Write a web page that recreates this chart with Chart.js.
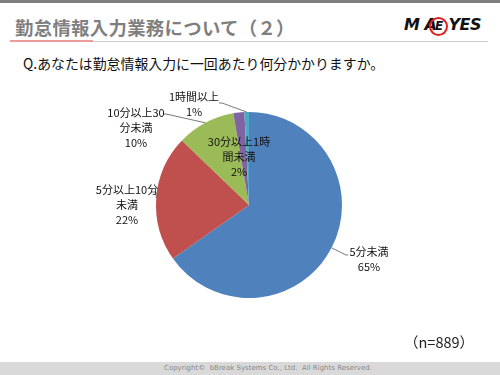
<!DOCTYPE html>
<html lang="ja">
<head>
<meta charset="utf-8">
<script src="https://cdn.jsdelivr.net/npm/chart.js@4/dist/chart.umd.min.js"></script>
<style>
  html, body { margin: 0; padding: 0; background: #fff; }
  body { width: 500px; height: 375px; position: relative; overflow: hidden;
         font-family: "Noto Sans CJK JP", "Noto Sans", sans-serif; }
  #topbar { position: absolute; left: 0; top: 0; width: 500px; height: 3px; background: #7f7f7f; }
  #title { position: absolute; left: 15px; top: 13px; font-size: 18.4px; font-weight: bold;
           color: #7f7f7f; line-height: 28px; white-space: nowrap; letter-spacing: 0.3px; }
  #rule-red { position: absolute; left: 10px; top: 40px; width: 83px; height: 2px; background: #ec9a9a; }
  #rule-gray { position: absolute; left: 93px; top: 41px; width: 395px; height: 1px; background: #cfcfcf; }
  #logo { position: absolute; left: 404px; top: 14px; font-family: "DejaVu Sans", sans-serif;
          font-weight: bold; font-style: italic; font-size: 16px; color: #111; white-space: nowrap;
          letter-spacing: -0.5px; line-height: 22px; }
  #logo .ring { display: inline-block; width: 15px; height: 15px; border: 2.5px solid #e02020;
                border-radius: 50%; text-align: center; line-height: 15px; font-size: 12px;
                margin: 0 0 0 -7px; vertical-align: 0px; box-sizing: content-box; }
  #question { position: absolute; left: 23px; top: 53px; font-size: 13.9px; color: #111;
              line-height: 20px; white-space: nowrap; }
  #nlabel { position: absolute; left: 404px; top: 332px; font-size: 14.5px; color: #222;
            line-height: 20px; white-space: nowrap; }
  #footer { position: absolute; left: 0; top: 362px; width: 500px; height: 13px; background: #d9d9d9;
            text-align: center; font-family: "DejaVu Sans", sans-serif; font-size: 7px;
            color: #8a8a8a; line-height: 13px; }
  #footer span { position: relative; left: 18px; }
  #chartBox { position: absolute; left: 0; top: 0; width: 500px; height: 375px; }
</style>
</head>
<body>
<div id="topbar"></div>
<div id="title">勤怠情報入力業務について（２）</div>
<div id="rule-red"></div>
<div id="rule-gray"></div>
<div id="logo">M A<span class="ring">E</span>YES</div>
<div id="question">Q.あなたは勤怠情報入力に一回あたり何分かかりますか。</div>
<div id="chartBox"><canvas id="pie" width="500" height="375"></canvas></div>
<div id="nlabel">（n=889）</div>
<div id="footer"><span>Copyright©&nbsp;&nbsp;bBreak Systems Co., Ltd.&nbsp;&nbsp;All Rights Reserved.</span></div>

<script>
// answer categories, clockwise from 12 o'clock
const categories = ['5分未満', '5分以上10分未満', '10分以上30分未満', '30分以上1時間未満', '1時間以上'];
// respondents per answer (n=889)
const counts = [580, 195, 90, 17, 7];
// label text as printed on the slide
const labelLines = [
  ['5分未満', '65%'],
  ['5分以上10分', '未満', '22%'],
  ['10分以上30', '分未満', '10%'],
  ['30分以上1時', '間未満', '2%'],
  ['1時間以上', '1%']
];
const colors = ['#4F81BD', '#C0504D', '#9BBB59', '#8064A2', '#4BACC6'];

// label placement relative to pie centre: first-line centre and leader end
const labelLayout = [
  { dx: 120, dy: 47, elbow: [97, 50], end: [99, 50] },
  { dx: -122, dy: -15, elbow: [-93, -13], end: [-98, -13] },
  { dx: -113, dy: -92, elbow: [-83, -91], end: [-86, -91] },
  { dx: -10, dy: -63 },
  { dx: -55, dy: -108, elbow: [-27, -102], end: [-30, -102] }
];

const pieLabels = {
  id: 'pieLabels',
  afterDatasetsDraw(chart) {
    const ctx = chart.ctx;
    const arcs = chart.getDatasetMeta(0).data;
    ctx.save();
    ctx.font = '11px "Noto Sans CJK JP", sans-serif';
    ctx.fillStyle = '#111';
    ctx.textAlign = 'center';
    ctx.textBaseline = 'middle';
    arcs.forEach((arc, i) => {
      const { x, y, startAngle, endAngle, outerRadius } = arc.getProps(['x', 'y', 'startAngle', 'endAngle', 'outerRadius'], true);
      const mid = (startAngle + endAngle) / 2;
      const lay = labelLayout[i];
      if (lay.elbow) {
        ctx.beginPath();
        ctx.strokeStyle = '#555';
        ctx.lineWidth = 0.8;
        ctx.moveTo(x + Math.cos(mid) * outerRadius, y + Math.sin(mid) * outerRadius);
        ctx.lineTo(x + lay.elbow[0], y + lay.elbow[1]);
        ctx.lineTo(x + lay.end[0], y + lay.end[1]);
        ctx.stroke();
      }
      labelLines[i].forEach((line, k) => {
        ctx.fillText(line, x + lay.dx, y + lay.dy + k * 15);
      });
    });
    ctx.restore();
  }
};

new Chart(document.getElementById('pie').getContext('2d'), {
  type: 'pie',
  data: {
    labels: categories,
    datasets: [{
      data: counts,
      backgroundColor: colors,
      borderWidth: 0
    }]
  },
  options: {
    responsive: false,
    devicePixelRatio: 1,
    animation: false,
    layout: { padding: { left: 156, right: 158, top: 112, bottom: 77 } },
    plugins: {
      legend: { display: false },
      tooltip: { enabled: false }
    }
  },
  plugins: [pieLabels]
});
</script>
</body>
</html>
